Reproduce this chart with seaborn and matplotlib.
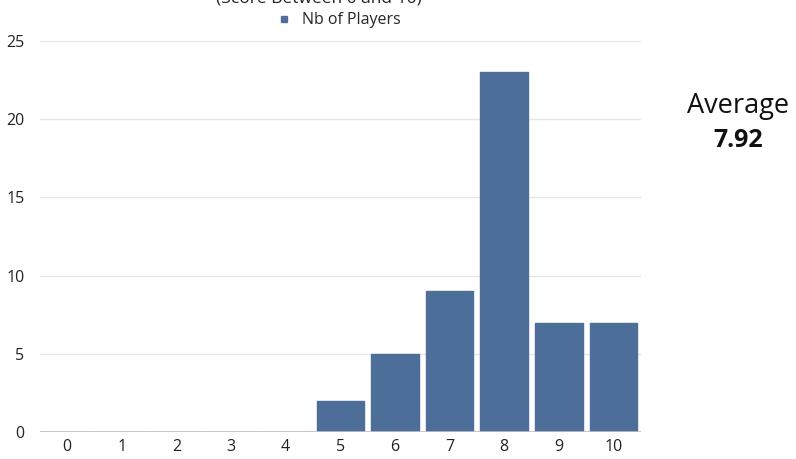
import numpy as np
import matplotlib.pyplot as plt
import seaborn as sns
import pandas as pd
from matplotlib.lines import Line2D

# Distribution of scores
scores = ['0', '1', '2', '3', '4', '5', '6', '7', '8', '9', '10']
nb_players = [0, 0, 0, 0, 0, 2, 5, 9, 23, 7, 7]
average = 7.92

df = pd.DataFrame({'Score': scores, 'Nb of Players': nb_players})

sns.set_style('white')
plt.rcParams['font.family'] = ['Open Sans', 'DejaVu Sans']

bar_color = '#4E6E9A'

fig = plt.figure(figsize=(7.96, 4.59), dpi=100)
ax = fig.add_axes([0.050, 0.0588, 0.755, 0.852])

sns.barplot(x='Score', y='Nb of Players', data=df, color=bar_color, width=0.87,
            saturation=1, edgecolor=bar_color, linewidth=1, ax=ax, zorder=3)
for p in ax.patches:
    p.set_joinstyle('round')

ax.set_ylim(0, 25)
ax.set_xlim(-0.5, 10.5)
ax.set_yticks([0, 5, 10, 15, 20, 25])
ax.yaxis.grid(True, color='#E6E6E6', linewidth=1, zorder=0)
ax.axhline(0, color='#C0C0C0', linewidth=1.2, zorder=4)
ax.set_xlabel('')
ax.set_ylabel('')
sns.despine(ax=ax, left=True, bottom=True, top=True, right=True)
ax.tick_params(axis='both', length=0, labelsize=11.5, colors='#222222')
ax.tick_params(axis='y', pad=11)
ax.tick_params(axis='x', pad=5)

# Title (cut off at the top in the original)
fig.text(0.400, 1.004, '(Score Between 0 and 10)', ha='center', va='center',
         fontsize=12.5, color='#222222')

# Legend
handle = Line2D([], [], marker='s', linestyle='', color=bar_color, markersize=5)
fig.legend(handles=[handle], labels=['Nb of Players'], loc='center',
           bbox_to_anchor=(0.42, 0.956), frameon=False, fontsize=11.5,
           handletextpad=0.1, borderaxespad=0)

# Average annotation
fig.text(0.927, 0.77, 'Average', ha='center', va='center', fontsize=19.5, color='#111111')
fig.text(0.927, 0.693, f'{average:.2f}', ha='center', va='center', fontsize=18,
         fontweight='bold', color='#111111')

fig.savefig('out.png', dpi=100)
